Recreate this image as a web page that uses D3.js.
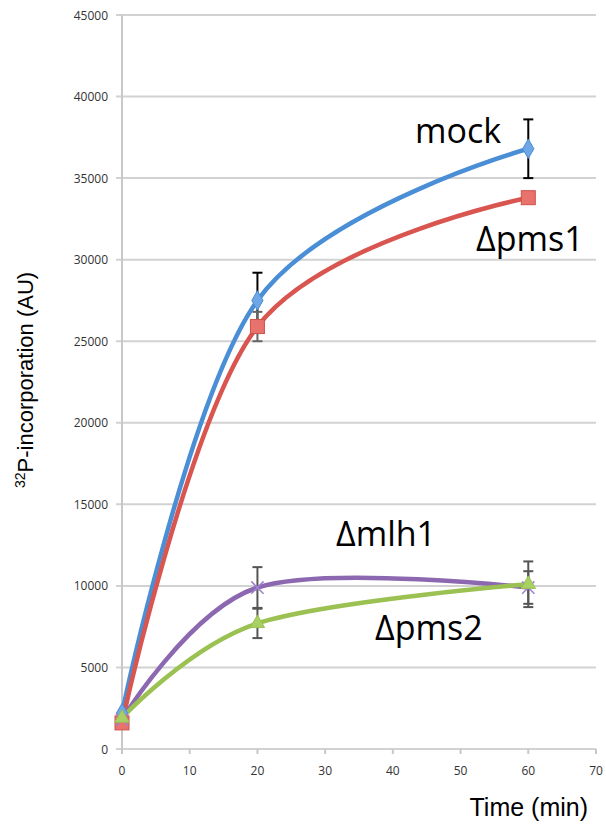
<!DOCTYPE html>
<html><head><meta charset="utf-8">
<script src="https://cdn.jsdelivr.net/npm/d3@7"></script>
<style>body{margin:0;background:#fff}</style>
</head><body>
<svg id="c" width="606" height="828"></svg>
<script>
const times = [0, 20, 60];
const mock = [2200, 27500, 36800];
const mockErr = [0, 1700, 1800];
const pms1 = [1600, 25900, 33800];
const pms1Err = [0, 900, 0];
const mlh1 = [1800, 9900, 9900];
const mlh1Err = [0, 1250, 1000];
const pms2 = [1900, 7700, 10100];
const pms2Err = [0, 900, 1400];
const yTicks = [0, 5000, 10000, 15000, 20000, 25000, 30000, 35000, 40000, 45000];
const xTicks = [0, 10, 20, 30, 40, 50, 60, 70];

const svg = d3.select("#c");
const x = d3.scaleLinear().domain([0, 70]).range([122, 596]);
const y = d3.scaleLinear().domain([0, 45000]).range([749, 15]);

// gridlines
svg.append("g").selectAll("line").data(yTicks).join("line")
  .attr("x1", 116).attr("x2", 596)
  .attr("y1", d => y(d)).attr("y2", d => y(d))
  .attr("stroke", "#d2d2d2").attr("stroke-width", 2);
// y axis line
svg.append("line").attr("x1", 122).attr("x2", 122).attr("y1", y(45000)).attr("y2", 754)
  .attr("stroke", "#c8c8c8").attr("stroke-width", 2);
// x ticks
svg.append("g").selectAll("line").data(xTicks).join("line")
  .attr("x1", d => x(d)).attr("x2", d => x(d)).attr("y1", 749).attr("y2", 754)
  .attr("stroke", "#c8c8c8").attr("stroke-width", 2);

svg.append("g").selectAll("text").data(yTicks).join("text")
  .attr("x", 108).attr("y", d => y(d) + 4.5).attr("text-anchor", "end")
  .attr("font-family", "Open Sans").attr("font-size", 12).attr("fill", "#333")
  .text(d => d);
svg.append("g").selectAll("text").data(xTicks).join("text")
  .attr("x", d => x(d)).attr("y", 775).attr("text-anchor", "middle")
  .attr("font-family", "Open Sans").attr("font-size", 12).attr("fill", "#333")
  .text(d => d);

// axis titles
const yt = svg.append("text").attr("transform", "translate(33,488) rotate(-90)")
  .attr("text-anchor", "start").attr("font-family", "Liberation Sans").attr("font-size", 22).attr("fill", "#000");
yt.append("tspan").attr("font-size", 14).attr("dy", -8).text("32");
yt.append("tspan").attr("dy", 8).text("P-incorporation (AU)");
svg.append("text").attr("x", 588).attr("y", 816).attr("text-anchor", "end")
  .attr("font-family", "Liberation Sans").attr("font-size", 25).text("Time (min)");

const series = [
  {name: "mock", vals: mock, err: mockErr, color: "#4a8ed6", errColor: "#000", marker: "diamond"},
  {name: "pms1", vals: pms1, err: pms1Err, color: "#d95550", errColor: "#666", marker: "square"},
  {name: "mlh1", vals: mlh1, err: mlh1Err, color: "#8b68b0", errColor: "#555", marker: "x"},
  {name: "pms2", vals: pms2, err: pms2Err, color: "#9bc152", errColor: "#555", marker: "triangle"}
];

const line = d3.line().x(d => x(d[0])).y(d => y(d[1])).curve(d3.curveCatmullRom.alpha(0));

// error bars
series.forEach(s => {
  const g = svg.append("g").attr("stroke", s.errColor).attr("stroke-width", 2);
  times.forEach((t, i) => {
    if (!s.err[i]) return;
    const cx = x(t), y1 = y(s.vals[i] + s.err[i]), y2 = y(s.vals[i] - s.err[i]);
    g.append("line").attr("x1", cx).attr("x2", cx).attr("y1", y1).attr("y2", y2);
    g.append("line").attr("x1", cx - 5).attr("x2", cx + 5).attr("y1", y1).attr("y2", y1);
    g.append("line").attr("x1", cx - 5).attr("x2", cx + 5).attr("y1", y2).attr("y2", y2);
  });
});

series.forEach(s => {
  const pts = times.map((t, i) => [t, s.vals[i]]);
  svg.append("path").datum(pts).attr("d", line).attr("fill", "none")
    .attr("stroke", s.color).attr("stroke-width", 4.5).attr("stroke-linecap", "round");
});

series.forEach(s => {
  const g = svg.append("g");
  times.forEach((t, i) => {
    const cx = x(t), cy = y(s.vals[i]);
    if (s.marker === "diamond") {
      g.append("path").attr("d", d3.symbol(d3.symbolDiamond, 110)()).attr("transform", `translate(${cx},${cy})`)
        .attr("fill", "#6ea6e6").attr("stroke", "#4a8ed6");
    } else if (s.marker === "square") {
      g.append("rect").attr("x", cx - 7).attr("y", cy - 7).attr("width", 14).attr("height", 14)
        .attr("fill", "#e8726c").attr("stroke", "#d0504a");
    } else if (s.marker === "triangle") {
      g.append("path").attr("d", d3.symbol(d3.symbolTriangle, 90)()).attr("transform", `translate(${cx},${cy})`)
        .attr("fill", "#a9d063").attr("stroke", "#9bc152");
    } else {
      g.append("path").attr("d", d3.symbol(d3.symbolX, 100)()).attr("transform", `translate(${cx},${cy})`)
        .attr("fill", "none").attr("stroke", "#a080d0").attr("stroke-width", 1.5);
    }
  });
});

// series labels
const labels = [
  {t: "mock", x: 415, y: 143},
  {t: "\u0394pms1", x: 476, y: 251},
  {t: "\u0394mlh1", x: 336, y: 546},
  {t: "\u0394pms2", x: 375, y: 640}
];
svg.append("g").selectAll("text").data(labels).join("text")
  .attr("x", d => d.x).attr("y", d => d.y)
  .attr("font-family", "Open Sans").attr("font-size", 34).attr("fill", "#000")
  .text(d => d.t);
</script>
</body></html>
